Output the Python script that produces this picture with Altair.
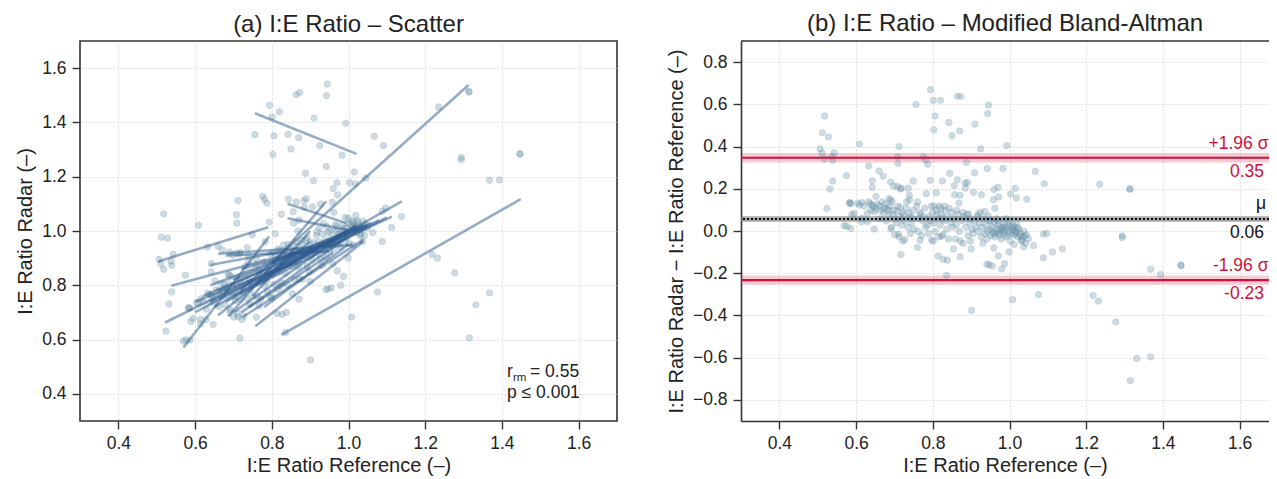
import altair as alt
import pandas as pd

FONT = "Liberation Sans"
TXT = "#222222"
FRAME = "#333333"
PT_FILL = "#6f99ae"
PT_EDGE = "#4f7d95"
LINE_COL = "#2b5a8e"
RED = "#d0103a"

# ---- data: reference I:E and (radar - reference) ----
REF_A = [0.794, 0.756, 0.801, 0.820, 0.864, 0.873, 0.945, 0.943, 0.806, 0.518,
         0.842, 0.910, 0.803, 0.870, 0.850, 0.512, 0.528, 0.609, 0.712, 0.925,
         0.993, 0.506, 0.511, 0.543, 0.518, 0.539, 0.537, 0.708, 0.709, 0.776,
         0.781, 0.787, 0.888, 0.633, 0.660, 0.671, 0.690, 0.698, 0.642, 0.642,
         0.716, 0.749, 0.793, 0.825, 0.844, 0.864, 0.909, 0.942, 0.983, 1.067,
         1.091, 1.235, 1.314, 1.314, 0.575, 0.539, 0.532, 0.524, 0.583, 0.586]
DIFF_A = [0.669, 0.599, 0.619, 0.619, 0.638, 0.638, 0.596, 0.556, 0.545, 0.545,
          0.514, 0.506, 0.479, 0.474, 0.452, 0.465, 0.446, 0.412, 0.400, 0.389,
          0.404, 0.389, 0.368, 0.371, 0.341, 0.335, 0.352, 0.352, 0.320, 0.352,
          0.336, 0.316, 0.325, 0.308, 0.284, 0.260, 0.232, 0.213, 0.238, 0.207,
          0.199, 0.237, 0.240, 0.237, 0.273, 0.243, 0.276, 0.296, 0.296, 0.282,
          0.224, 0.222, 0.200, 0.198, 0.262, 0.237, 0.199, 0.107, 0.135, 0.012]

REF_B = [0.576, 0.569, 1.294, 1.294, 1.368, 1.394, 1.447, 1.447, 1.218, 1.232,
         1.277, 1.332, 1.368, 1.315, 0.901, 1.008, 1.076, 0.836, 0.980, 0.987,
         0.941, 0.947, 0.955, 0.971, 0.999, 1.088, 1.112, 1.138, 1.063, 1.088,
         1.097, 1.037, 0.717, 0.760, 0.814, 0.827, 0.838, 0.871, 0.854, 0.900,
         0.959, 0.797, 0.823, 1.012, 1.040, 1.032, 0.767, 0.727, 0.711, 0.691]
DIFF_B = [0.023, 0.025, -0.023, -0.031, -0.181, -0.206, -0.162, -0.164, -0.305, -0.332,
          -0.431, -0.604, -0.596, -0.709, -0.376, -0.325, -0.301, -0.210, -0.180, -0.154,
          -0.157, -0.160, -0.165, -0.118, -0.099, -0.127, -0.099, -0.085, -0.069, -0.015,
          -0.012, -0.075, -0.112, -0.078, -0.118, -0.134, -0.138, -0.122, -0.085, -0.085,
          -0.080, -0.043, -0.025, -0.064, -0.024, -0.043, -0.043, -0.040, -0.015, 0.009]

REF_C = [0.960, 0.970, 1.015, 1.003, 1.045, 1.018, 0.958, 0.972, 0.906, 0.927,
         0.884, 0.890, 0.885, 0.871, 0.857, 0.868, 0.856, 0.809, 0.783, 0.760,
         0.739, 0.739, 0.686, 0.652, 0.935, 0.962, 0.708, 0.718, 0.736, 0.615]
DIFF_C = [0.196, 0.208, 0.202, 0.175, 0.150, 0.156, 0.148, 0.161, 0.183, 0.172,
          0.227, 0.229, 0.202, 0.169, 0.172, 0.132, 0.215, 0.181, 0.177, 0.137,
          0.148, 0.170, 0.153, 0.164, 0.093, 0.107, 0.210, 0.203, 0.203, 0.135]

REF_D = [0.583, 0.587, 0.604, 0.609, 0.589, 0.595, 0.614, 0.629, 0.637, 0.642,
         0.639, 0.652, 0.647, 0.614, 0.629, 0.621, 0.633, 0.645, 0.655, 0.648,
         0.662, 0.665, 0.671, 0.676, 0.681, 0.685, 0.690, 0.694, 0.699, 0.702,
         0.705, 0.709, 0.714, 0.719, 0.721, 0.726, 0.731, 0.735, 0.741, 0.745,
         0.749, 0.751, 0.663, 0.679, 0.692, 0.701, 0.712, 0.722, 0.742, 0.732,
         0.668, 0.673, 0.688, 0.696, 0.707, 0.716, 0.724, 0.738, 0.747, 0.684,
         0.758, 0.768, 0.774, 0.779, 0.786, 0.791, 0.796, 0.799, 0.802, 0.806,
         0.809, 0.812, 0.816, 0.819, 0.822, 0.826, 0.829, 0.832, 0.836, 0.839,
         0.841, 0.846, 0.849, 0.852, 0.762, 0.771, 0.781, 0.789, 0.801, 0.815,
         0.763, 0.766, 0.803, 0.821, 0.831, 0.843, 0.777, 0.794, 0.811, 0.827,
         0.855, 0.861, 0.866, 0.869, 0.876, 0.881, 0.886, 0.889, 0.892, 0.896,
         0.899, 0.902, 0.905, 0.909, 0.912, 0.916, 0.919, 0.922, 0.926, 0.929,
         0.932, 0.936, 0.939, 0.942, 0.946, 0.949, 0.951, 0.859, 0.872, 0.879,
         0.898, 0.931, 0.941, 0.862, 0.878, 0.893, 0.918, 0.924, 0.944, 0.952,
         0.955, 0.958, 0.961, 0.964, 0.968, 0.971, 0.974, 0.978, 0.981, 0.984,
         0.986, 0.989, 0.991, 0.994, 0.997, 1.000, 1.004, 1.008, 1.011, 1.014,
         1.018, 1.021, 1.024, 1.029, 1.034, 1.038, 1.044, 1.049, 0.962, 0.969,
         0.979, 0.999, 1.019, 0.992, 1.002, 1.031, 1.042, 0.966, 1.009, 0.996,
         1.006, 1.016, 1.026, 0.976, 0.987, 0.957, 0.983, 1.013, 0.973, 1.023]
DIFF_D = [0.132, 0.129, 0.132, 0.123, 0.078, 0.083, 0.061, 0.083, 0.129, 0.123,
          0.099, 0.107, 0.009, 0.044, 0.044, 0.118, 0.138, 0.115, 0.128, 0.092,
          0.118, 0.098, 0.088, 0.128, 0.108, 0.078, 0.148, 0.138, 0.098, 0.058,
          0.038, 0.118, 0.068, 0.028, 0.088, 0.048, 0.108, 0.018, 0.068, 0.038,
          0.098, 0.008, 0.058, 0.048, 0.018, -0.018, -0.028, -0.048, -0.012, 0.138,
          0.138, 0.108, 0.118, 0.078, 0.095, 0.112, 0.075, 0.085, 0.062, 0.098,
          0.118, 0.078, 0.048, 0.108, 0.028, 0.068, 0.118, 0.088, 0.038, -0.002,
          0.098, 0.058, 0.118, 0.028, 0.078, -0.018, 0.048, 0.098, 0.008, 0.068,
          -0.038, 0.038, 0.088, 0.018, -0.002, -0.022, 0.018, -0.012, -0.048, -0.028,
          0.058, 0.088, 0.118, 0.108, 0.118, 0.108, 0.068, 0.048, 0.078, 0.062,
          0.058, 0.028, 0.078, -0.002, 0.048, 0.068, 0.018, 0.078, -0.022, 0.038,
          0.058, 0.008, -0.012, 0.048, 0.018, 0.068, -0.002, 0.038, -0.028, 0.018,
          0.058, -0.012, 0.028, -0.002, 0.048, 0.008, -0.022, -0.038, -0.048, -0.058,
          -0.048, -0.058, -0.038, 0.098, 0.088, 0.082, 0.078, 0.088, 0.072, 0.048,
          0.018, -0.002, 0.038, -0.012, 0.008, 0.028, -0.022, -0.002, 0.018, 0.038,
          -0.012, 0.008, -0.028, 0.018, -0.002, 0.028, -0.012, 0.008, -0.018, 0.018,
          -0.002, -0.028, 0.008, -0.012, -0.028, -0.002, -0.018, -0.038, -0.028, 0.048,
          -0.038, 0.048, 0.038, 0.058, -0.048, -0.048, -0.058, 0.058, 0.028, -0.018,
          0.018, -0.012, -0.022, 0.012, 0.022, -0.012, 0.002, 0.002, -0.008, 0.015]

# per-subject regression lines (scatter panel): start / end points
LINE_X1 = [0.756, 0.825, 0.720, 0.570, 0.504, 0.538, 0.522, 0.757, 0.841, 0.841,
           0.660, 0.700, 0.640, 0.687, 0.639, 0.680, 0.600, 0.650, 0.700, 0.620,
           0.680, 0.720, 0.740, 0.660, 0.640, 0.760, 0.700, 0.780, 0.800, 0.720,
           0.820, 0.725, 0.660, 0.600, 0.750, 0.780]
LINE_Y1 = [1.434, 0.617, 0.784, 0.571, 0.888, 0.798, 0.663, 0.649, 1.100, 1.047,
           0.916, 0.760, 0.740, 0.685, 0.875, 0.910, 0.700, 0.720, 0.700, 0.760,
           0.740, 0.700, 0.720, 0.780, 0.800, 0.800, 0.820, 0.840, 0.880, 0.860,
           0.900, 0.684, 0.690, 0.740, 0.760, 0.720]
LINE_X2 = [1.021, 1.449, 1.313, 0.793, 0.791, 0.870, 1.038, 1.039, 0.995, 1.000,
           1.011, 1.139, 1.113, 0.942, 0.870, 0.950, 1.000, 1.020, 0.980, 1.050,
           1.100, 0.960, 1.000, 0.980, 0.940, 1.020, 1.000, 1.080, 1.040, 0.980,
           1.060, 1.039, 0.900, 0.880, 0.900, 1.000]
LINE_Y2 = [1.284, 1.117, 1.538, 0.980, 1.014, 0.925, 1.023, 0.961, 1.029, 1.004,
           0.949, 1.109, 1.053, 1.109, 0.935, 0.925, 1.000, 1.020, 0.980, 1.020,
           1.050, 0.920, 0.980, 0.980, 0.960, 1.020, 1.000, 1.040, 1.010, 0.960,
           1.030, 0.968, 0.960, 0.890, 1.000, 0.950]

# Bland-Altman statistics
LIMIT_VALUES = [0.347, -0.233]
LIMIT_NAMES = ["+1.96 σ", "-1.96 σ"]
LIMIT_LABELS = ["0.35", "-0.23"]
MEAN_VALUE = [0.057]
MEAN_NAME = ["μ"]
MEAN_LABEL = ["0.06"]

X_TICKS = [0.4, 0.6, 0.8, 1.0, 1.2, 1.4, 1.6]
Y_TICKS_A = [0.4, 0.6, 0.8, 1.0, 1.2, 1.4, 1.6]
Y_TICKS_B = [-0.8, -0.6, -0.4, -0.2, 0.0, 0.2, 0.4, 0.6, 0.8]

# fixed canvas (fits inside the page body so the browser never rescales it)
SVG_W, SVG_H = 1261, 463
PAD_L, PAD_T = 72, 33
W_A, H = 537, 380
GAP = 124
W_B = SVG_W - PAD_L - W_A - GAP          # right panel runs to the canvas edge
FS_TICK, FS_AX, FS_TITLE, FS_ANN = 17.5, 20, 24, 17.5

df = pd.DataFrame({"ref": REF_A + REF_B + REF_C + REF_D,
                   "diff": DIFF_A + DIFF_B + DIFF_C + DIFF_D})
lines_df = pd.DataFrame({"x1": LINE_X1, "y1": LINE_Y1, "x2": LINE_X2, "y2": LINE_Y2})
lim_df = pd.DataFrame({"v": LIMIT_VALUES, "name": LIMIT_NAMES, "lab": LIMIT_LABELS})
mean_df = pd.DataFrame({"v": MEAN_VALUE, "name": MEAN_NAME, "lab": MEAN_LABEL})

x_scale_a = alt.Scale(domain=[0.3, 1.7], nice=False, zero=False)
x_scale_b = alt.Scale(domain=[0.3, 0.3 + 1.4 * W_B / W_A], nice=False, zero=False)
y_scale_a = alt.Scale(domain=[0.3, 1.7], nice=False, zero=False)
y_scale_b = alt.Scale(domain=[-0.9, 0.9], nice=False, zero=False)

x_title = "I:E Ratio Reference (–)"


def x_axis(**kw):
    return alt.Axis(values=X_TICKS, format=".1f", title=x_title, titlePadding=3.5,
                    labelPadding=5, **kw)


# ---------------- panel (a) ----------------
pts_a = alt.Chart(df).transform_calculate(
    radar="datum.ref + datum.diff"
).mark_circle(size=40, color=PT_FILL, opacity=0.34, stroke=PT_EDGE, strokeWidth=0.9).encode(
    x=alt.X("ref:Q", scale=x_scale_a, axis=x_axis()),
    y=alt.Y("radar:Q", scale=y_scale_a,
            axis=alt.Axis(values=Y_TICKS_A, format=".1f", title="I:E Ratio Radar (–)")),
)

lines_a = alt.Chart(lines_df).mark_rule(color=LINE_COL, strokeWidth=2.6, opacity=0.5).encode(
    x=alt.X("x1:Q", scale=x_scale_a), y=alt.Y("y1:Q", scale=y_scale_a),
    x2="x2:Q", y2="y2:Q",
)

ann_df = pd.DataFrame({"a": [0]})
ann_r = alt.Chart(ann_df).mark_text(text="r", font=FONT, fontSize=FS_ANN, color=TXT, align="left",
                                    baseline="alphabetic").encode(x=alt.value(427), y=alt.value(336))
ann_rm = alt.Chart(ann_df).mark_text(text="rm", font=FONT, fontSize=11.5, color=TXT, align="left",
                                     baseline="alphabetic").encode(x=alt.value(433), y=alt.value(340))
ann_eq = alt.Chart(ann_df).mark_text(text="= 0.55", font=FONT, fontSize=FS_ANN, color=TXT, align="left",
                                     baseline="alphabetic").encode(x=alt.value(450), y=alt.value(336))
ann_p = alt.Chart(ann_df).mark_text(text="p ≤ 0.001", font=FONT, fontSize=FS_ANN, color=TXT, align="left",
                                    baseline="alphabetic").encode(x=alt.value(427), y=alt.value(357))

panel_a = alt.layer(pts_a, lines_a, ann_r, ann_rm, ann_eq, ann_p).properties(
    width=W_A, height=H,
    title=alt.TitleParams("(a) I:E Ratio – Scatter", fontSize=FS_TITLE, font=FONT,
                          fontWeight="normal", color=TXT, anchor="middle", offset=4),
)

# ---------------- panel (b) ----------------
pts_b = alt.Chart(df).mark_circle(size=40, color=PT_FILL, opacity=0.34, stroke=PT_EDGE,
                                  strokeWidth=0.9).encode(
    x=alt.X("ref:Q", scale=x_scale_b,
            axis=x_axis(domain=True, domainColor=FRAME, domainWidth=1.6)),
    y=alt.Y("diff:Q", scale=y_scale_b,
            axis=alt.Axis(values=Y_TICKS_B, format=".1f", domain=True, domainColor=FRAME,
                          domainWidth=1.6,
                          title="I:E Ratio Radar − I:E Ratio Reference (–)")),
)

lim_band = alt.Chart(lim_df).transform_calculate(
    lo="datum.v - 0.022", hi="datum.v + 0.022"
).mark_rect(color=RED, opacity=0.22).encode(
    y=alt.Y("lo:Q", scale=y_scale_b), y2="hi:Q", x=alt.value(0), x2=alt.value(W_B)
)
lim_rule = alt.Chart(lim_df).mark_rule(color=RED, strokeWidth=2.2).encode(
    y=alt.Y("v:Q", scale=y_scale_b)
)
lim_name = alt.Chart(lim_df).mark_text(font=FONT, fontSize=FS_ANN, color=RED, align="right",
                                       baseline="alphabetic", dy=-9).encode(
    y=alt.Y("v:Q", scale=y_scale_b), x=alt.value(W_B - 0.5), text="name:N")
lim_lab = alt.Chart(lim_df).mark_text(font=FONT, fontSize=FS_ANN, color=RED, align="right",
                                      baseline="alphabetic", dy=19).encode(
    y=alt.Y("v:Q", scale=y_scale_b), x=alt.value(W_B - 5), text="lab:N")

mean_band = alt.Chart(mean_df).transform_calculate(
    lo="datum.v - 0.013", hi="datum.v + 0.013"
).mark_rect(color="#7a7a7a", opacity=0.65).encode(
    y=alt.Y("lo:Q", scale=y_scale_b), y2="hi:Q", x=alt.value(0), x2=alt.value(W_B)
)
mean_rule = alt.Chart(mean_df).mark_rule(color="#111111", strokeWidth=2, strokeDash=[2, 2]).encode(
    y=alt.Y("v:Q", scale=y_scale_b)
)
mean_name = alt.Chart(mean_df).mark_text(font=FONT, fontSize=FS_ANN, color="#111111", align="right",
                                         baseline="alphabetic", dy=-10).encode(
    y=alt.Y("v:Q", scale=y_scale_b), x=alt.value(W_B - 3), text="name:N")
mean_lab = alt.Chart(mean_df).mark_text(font=FONT, fontSize=FS_ANN, color="#111111", align="right",
                                        baseline="alphabetic", dy=19).encode(
    y=alt.Y("v:Q", scale=y_scale_b), x=alt.value(W_B - 5), text="lab:N")

top_border = alt.Chart(ann_df).mark_rule(color=FRAME, strokeWidth=1.6).encode(
    x=alt.value(0), x2=alt.value(W_B), y=alt.value(0)
)

panel_b = alt.layer(lim_band, mean_band, pts_b, lim_rule, mean_rule,
                    lim_name, lim_lab, mean_name, mean_lab, top_border).properties(
    width=W_B, height=H,
    view=alt.ViewBackground(strokeOpacity=0),
    title=alt.TitleParams("(b) I:E Ratio – Modified Bland-Altman", fontSize=FS_TITLE, font=FONT,
                          fontWeight="normal", color=TXT, anchor="middle", offset=4),
)

# fixed-size canvas: the plot areas sit at exact offsets, axes hang into the padding
chart = alt.hconcat(panel_a, panel_b, spacing=GAP, bounds="flush").properties(
    autosize=alt.AutoSizeParams(type="none"),
    padding={"left": PAD_L, "top": PAD_T, "right": SVG_W - PAD_L, "bottom": SVG_H - PAD_T},
    background="white",
).configure_view(
    stroke=FRAME, strokeWidth=1.6
).configure_axis(
    labelFont=FONT, labelFontSize=FS_TICK, labelColor=TXT,
    titleFont=FONT, titleFontSize=FS_AX, titleColor=TXT, titleFontWeight="normal",
    tickColor=FRAME, tickSize=8, tickWidth=1.4, labelPadding=6, titlePadding=6,
    domain=False, gridColor="#d6d6d6", gridDash=[2, 2], gridWidth=0.8,
)

chart.save("out.html", embed_options={"renderer": "svg", "actions": False})
